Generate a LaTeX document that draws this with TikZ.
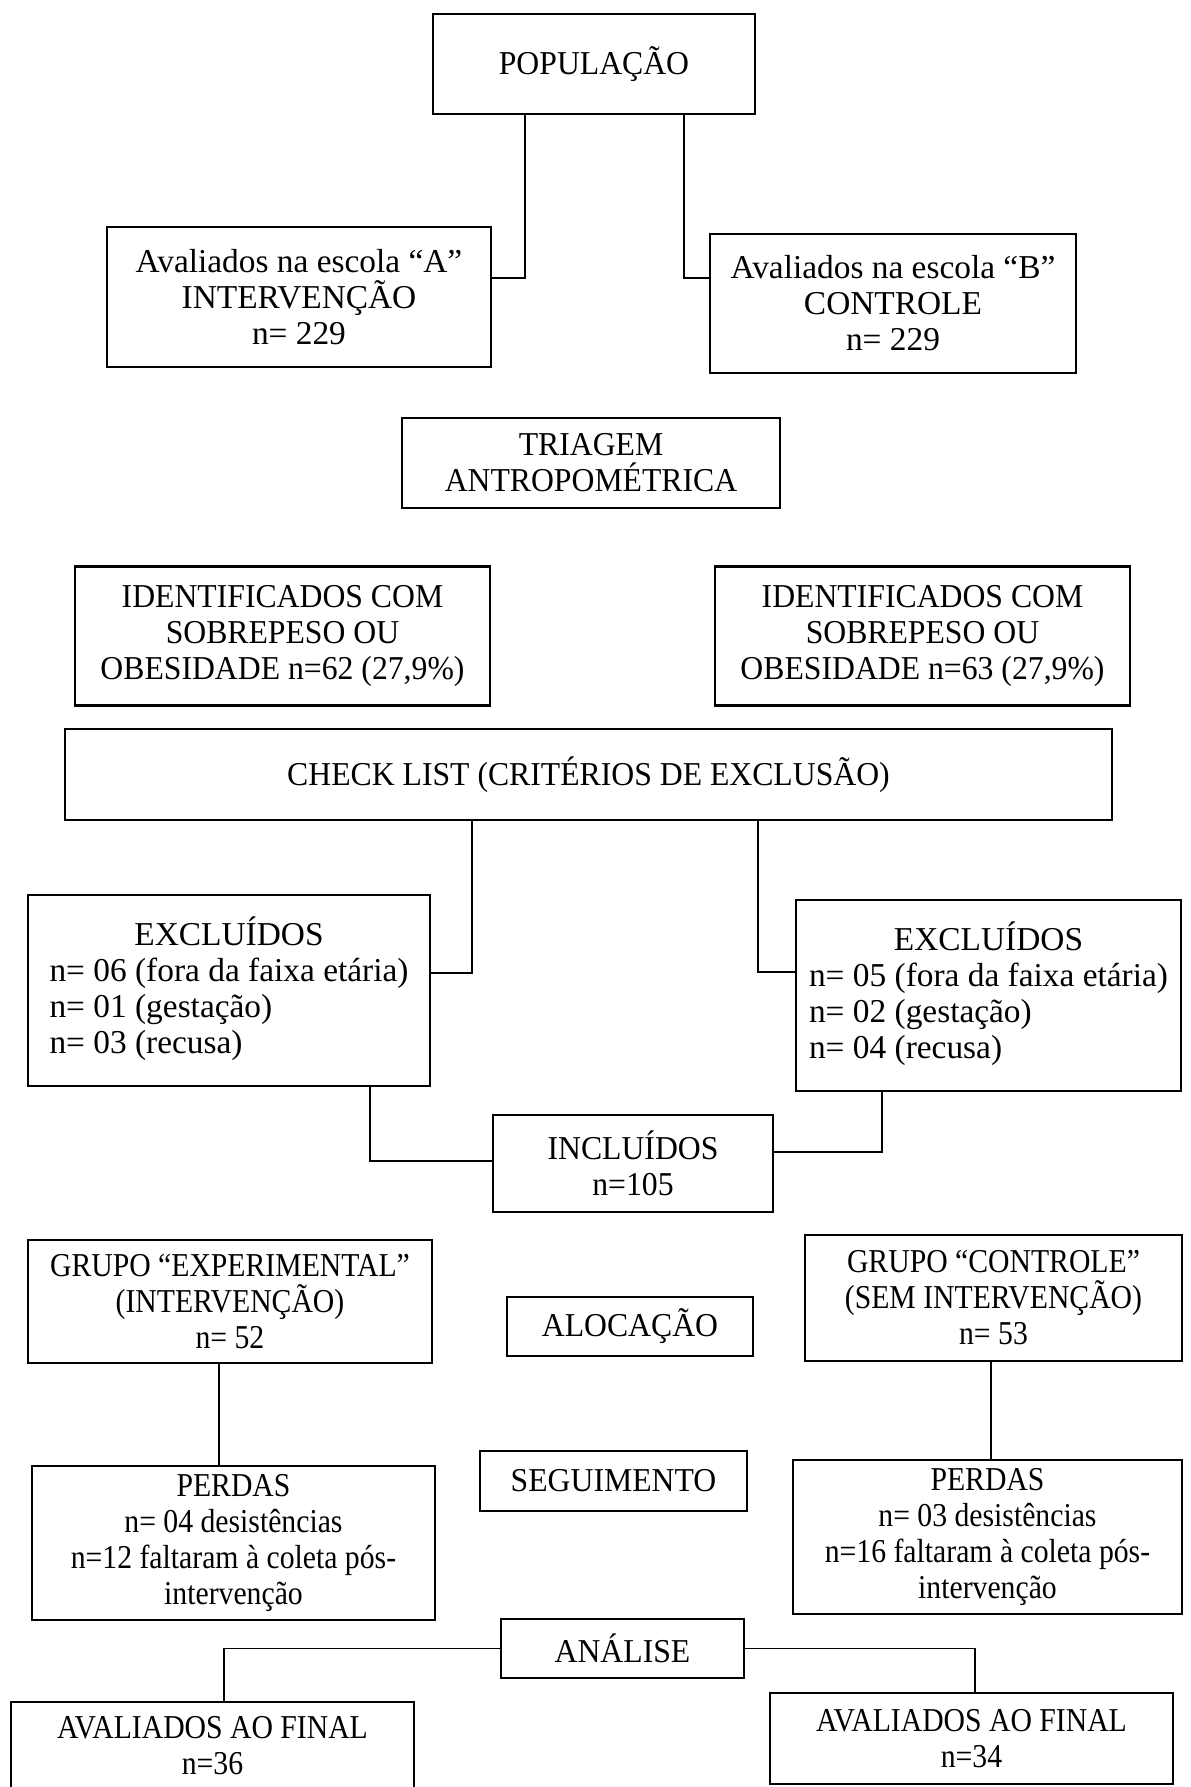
\documentclass[tikz,border=0pt]{standalone}
\usepackage{fontspec}
\setmainfont{Liberation Serif}
\newfontfamily\boxfont[FakeStretch=0.95]{Liberation Serif}
\newfontfamily\narrowfont[FakeStretch=0.89]{Liberation Serif}
\usetikzlibrary{positioning}
\tikzset{
  box/.style={draw=black, line width=1.4pt, align=center, inner sep=0pt, font=\fontsize{19}{20.5}\boxfont},
  widebox/.style={box, font=\fontsize{19}{20.5}\rmfamily},
  narrowbox/.style={box, font=\fontsize{19}{20.5}\narrowfont},
  link/.style={draw=black, line width=0.7pt}
}

\begin{document}
\begin{tikzpicture}[x=0.02cm, y=-0.02cm]
  \useasboundingbox[fill=white] (0,0) rectangle (1190,1787);
  % recrutamento
  \node[box, minimum width=6.44cm, minimum height=2.0cm] (pop) at (594,64) {POPULAÇÃO};
  \node[widebox, minimum width=7.68cm, minimum height=2.8cm] (escA) at (299,297) {Avaliados na escola “A”\\INTERVENÇÃO\\n= 229};
  \node[widebox, minimum width=7.32cm, minimum height=2.78cm] (escB) at (893,303.5) {Avaliados na escola “B”\\CONTROLE\\n= 229};
  \node[box, minimum width=7.56cm, minimum height=1.8cm] (triagem) at (591,463) {TRIAGEM\\ANTROPOMÉTRICA};
  \node[box, minimum width=8.3cm, minimum height=2.78cm] (identA) at (282.5,636) {IDENTIFICADOS COM\\SOBREPESO OU\\OBESIDADE n=62 (27,9\%)};
  \node[box, minimum width=8.3cm, minimum height=2.78cm] (identB) at (922.5,636) {IDENTIFICADOS COM\\SOBREPESO OU\\OBESIDADE n=63 (27,9\%)};
  \node[box, minimum width=20.94cm, minimum height=1.82cm] (check) at (588.5,774.5) {CHECK LIST (CRITÉRIOS DE EXCLUSÃO)};
  % exclusao e inclusao
  \node[widebox, minimum width=8.04cm, minimum height=3.82cm] (exclA) at (229,990.5) {\begin{tabular}{@{}l@{}}\multicolumn{1}{@{}c@{}}{EXCLUÍDOS}\\n= 06 (fora da faixa etária)\\n= 01 (gestação)\\n= 03 (recusa)\end{tabular}};
  \node[widebox, minimum width=7.7cm, minimum height=3.82cm] (exclB) at (988.5,995.5) {\begin{tabular}{@{}l@{}}\multicolumn{1}{@{}c@{}}{EXCLUÍDOS}\\n= 05 (fora da faixa etária)\\n= 02 (gestação)\\n= 04 (recusa)\end{tabular}};
  \node[box, minimum width=5.6cm, minimum height=1.94cm] (incl) at (633,1163.5) {INCLUÍDOS\\n=105};
  % alocacao
  \node[narrowbox, minimum width=8.08cm, minimum height=2.46cm] (grpA) at (230,1301.5) {GRUPO “EXPERIMENTAL”\\(INTERVENÇÃO)\\n= 52};
  \node[narrowbox, minimum width=7.54cm, minimum height=2.52cm] (grpB) at (993.5,1298) {GRUPO “CONTROLE”\\(SEM INTERVENÇÃO)\\n= 53};
  \node[box, minimum width=4.92cm, minimum height=1.18cm] (aloc) at (630,1326.5) {ALOCAÇÃO};
  % seguimento
  \node[narrowbox, minimum width=8.06cm, minimum height=3.08cm] (perdA) at (233.5,1543) {PERDAS\\n= 04 desistências\\n=12 faltaram à coleta pós-\\intervenção};
  \node[box, minimum width=5.34cm, minimum height=1.2cm] (segui) at (613.5,1481) {SEGUIMENTO};
  \node[narrowbox, minimum width=7.78cm, minimum height=3.08cm] (perdB) at (987.5,1537) {PERDAS\\n= 03 desistências\\n=16 faltaram à coleta pós-\\intervenção};
  % analise
  \node[box, minimum width=4.86cm, minimum height=1.18cm] (anal) at (622.5,1648.5) {ANÁLISE};
  \node[narrowbox, minimum width=8.06cm, minimum height=1.76cm] (finalA) at (212.5,1746) {AVALIADOS AO FINAL\\n=36};
  \node[narrowbox, minimum width=8.06cm, minimum height=1.82cm] (finalB) at (971.5,1738.5) {AVALIADOS AO FINAL\\n=34};

  \draw[link] (pop.south -| 525,0) |- (escA.east |- 0,278);
  \draw[link] (pop.south -| 684,0) |- (escB.west |- 0,278);
  \draw[link] (check.south -| 472,0) |- (exclA.east |- 0,973);
  \draw[link] (check.south -| 758,0) |- (exclB.west |- 0,972);
  \draw[link] (exclA.south -| 370,0) |- (incl.west |- 0,1161);
  \draw[link] (exclB.south -| 882,0) |- (incl.east |- 0,1152);
  \draw[link] (grpA.south -| 219,0) -- (perdA.north -| 219,0);
  \draw[link] (grpB.south -| 991,0) -- (perdB.north -| 991,0);
  \draw[link] (anal.west) -| (finalA.north -| 224,0);
  \draw[link] (anal.east) -| (finalB.north -| 975,0);
\end{tikzpicture}
\end{document}
